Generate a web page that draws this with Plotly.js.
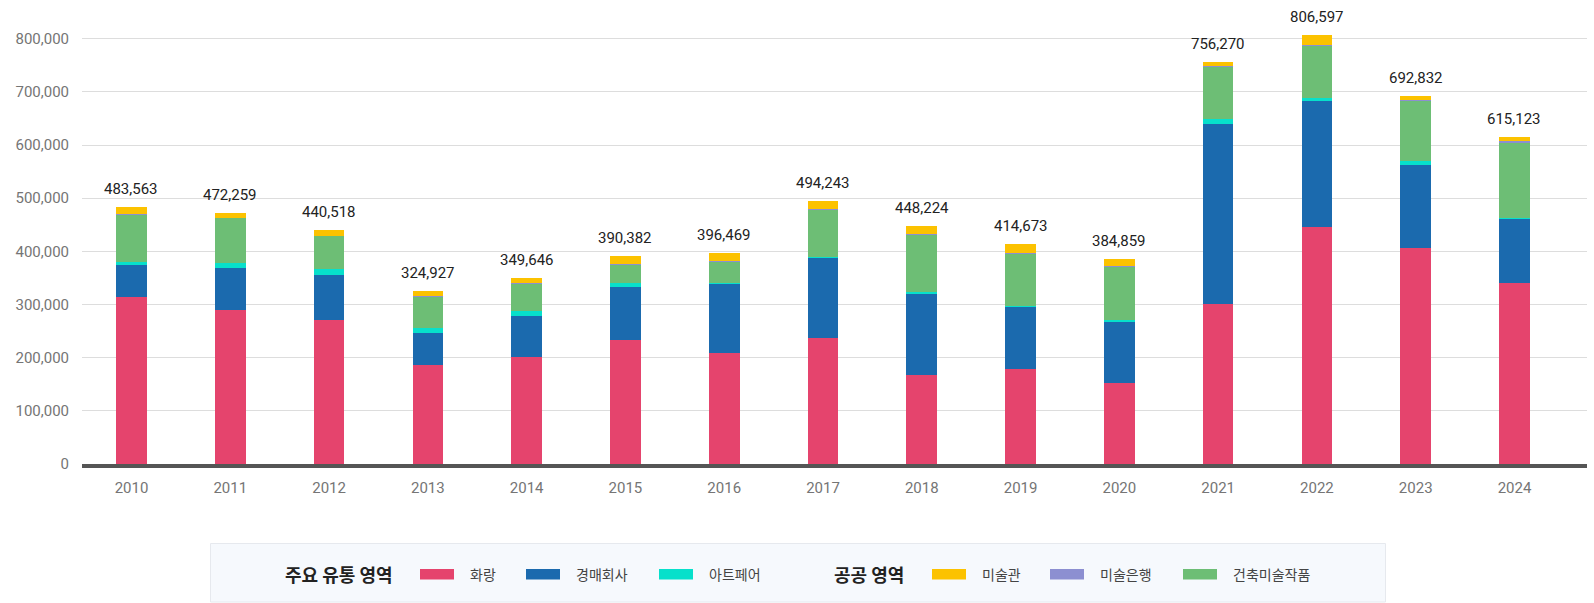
<!DOCTYPE html>
<html><head><meta charset="utf-8">
<script src="https://cdn.plot.ly/plotly-3.0.1.min.js"></script>
<style>html,body{margin:0;padding:0;background:#fff}#chart{width:1594px;height:603px}</style>
</head><body><div id="chart"></div>
<script>
// ---- data ----
const years = ['2010','2011','2012','2013','2014','2015','2016','2017','2018','2019','2020','2021','2022','2023','2024'];
const gallery   = [313800,289250,270400,185500,200600,232650,208100,236400,166600,177900,151500,300600,445850,406200,340000];
const auction   = [ 60350, 79250, 84900, 60350, 77300,100000,130800,150950,152850,117000,116400,339600,237750,156650,120500];
const artFair   = [  5650,  9400, 11300,  9450,  9450,  7550,  1850,  2450,  3750,  2450,  2500,  8100,  5650,  6200,  2400];
const museum    = [ 12600,  8500, 11200,  8700,  9550, 13800, 14150, 13850, 15000, 17300, 13150,  8000, 18700,  8800,  8300];
const artBank   = [  1900,   500,   500,  2450,  1200,  2450,  1900,  1900,  2450,  1850,  1900,  1900,  2400,  1000,  2400];
const publicArt = [ 89260, 84900, 62250, 58450, 51550, 33950, 39650, 88700,107550, 98150, 99400, 98100, 96250,113950,141500];
const totals    = [483563,472259,440518,324927,349646,390382,396469,494243,448224,414673,384859,756270,806597,692832,615123];
const seriesNames = ['화랑','경매회사','아트페어','미술관','미술은행','건축미술작품'];
const groupTitles = ['주요 유통 영역','공공 영역'];
const yTicks = [0,100000,200000,300000,400000,500000,600000,700000,800000];

// ---- style ----
const colors = {
  '화랑':'#E5446D','경매회사':'#1B6AAE','아트페어':'#07E0CB',
  '미술관':'#FCC200','미술은행':'#8C8FD1','건축미술작품':'#6DBE75'
};
const FONT = 'Roboto, "Noto Sans CJK KR", "Noto Sans", sans-serif';
const KFONT = '"Noto Sans CJK KR", Roboto, sans-serif';
const L = 82, R = 7, T = 14, B = 139, W = 1594, H = 603;
const PW = W - L - R, PH = H - T - B;
const px = x => (x - L) / PW;
const py = y => (H - B - y) / PH;
const fmt = v => String(v).replace(/\B(?=(\d{3})+(?!\d))/g, ',');

const stackOrder = [
  ['화랑', gallery], ['경매회사', auction], ['아트페어', artFair],
  ['건축미술작품', publicArt], ['미술은행', artBank], ['미술관', museum]
];
const traces = stackOrder.map(([name, vals]) => ({
  type: 'bar', name, x: years, y: vals, width: 0.31,
  marker: {color: colors[name], line: {width: 0}},
  showlegend: false, hoverinfo: 'skip'
}));

// total labels: category index positions on the category axis
const annotations = totals.map((t, i) => ({
  x: i, y: t, xref: 'x', yref: 'y',
  text: fmt(t), showarrow: false,
  xanchor: 'center', yanchor: 'middle', yshift: 18,
  font: {family: FONT, size: 15, color: '#222222'}
}));

// custom legend (layout positions)
const legendItems = [
  {kind:'title', text: groupTitles[0], x: 283},
  {kind:'item', name: seriesNames[0], x: 420},
  {kind:'item', name: seriesNames[1], x: 526},
  {kind:'item', name: seriesNames[2], x: 659},
  {kind:'title', text: groupTitles[1], x: 832},
  {kind:'item', name: seriesNames[3], x: 932},
  {kind:'item', name: seriesNames[4], x: 1050},
  {kind:'item', name: seriesNames[5], x: 1183}
];
const legY = 574;
const shapes = [{
  type:'rect', xref:'paper', yref:'paper',
  x0: px(210.5), x1: px(1385.5), y0: py(543.5), y1: py(602),
  fillcolor:'#F6F9FD', line:{color:'#E6E9EE', width:1}, layer:'below'
}];
legendItems.forEach(it => {
  if (it.kind === 'title') {
    annotations.push({xref:'paper', yref:'paper', x: px(it.x), y: py(legY),
      xanchor:'left', yanchor:'middle', showarrow:false, text: '<b>' + it.text + '</b>',
      font:{family: KFONT, size: 18, color:'#222222'}});
  } else {
    shapes.push({type:'rect', xref:'paper', yref:'paper',
      x0: px(it.x), x1: px(it.x + 34), y0: py(579.5), y1: py(569),
      fillcolor: colors[it.name], line:{width:0}});
    annotations.push({xref:'paper', yref:'paper', x: px(it.x + 48), y: py(legY),
      xanchor:'left', yanchor:'middle', showarrow:false, text: it.name,
      font:{family: KFONT, size: 14, color:'#444444'}});
  }
});

const layout = {
  width: W, height: H,
  margin: {l: L, r: R, t: T, b: B, pad: 0},
  paper_bgcolor: '#ffffff', plot_bgcolor: '#ffffff',
  barmode: 'stack', showlegend: false,
  font: {family: FONT},
  xaxis: {
    type: 'category', range: [-0.501, 14.734],
    showline: true, linecolor: '#555555', linewidth: 4,
    showgrid: false, zeroline: false, ticks: '',
    ticklabelstandoff: 7,
    tickfont: {family: FONT, size: 15, color: '#757575'}
  },
  yaxis: {
    range: [0, 846500], tickvals: yTicks,
    ticktext: yTicks.map(fmt),
    showgrid: true, gridcolor: '#DDDDDD', gridwidth: 1,
    zeroline: false, showline: false, ticks: '',
    ticklabelstandoff: 12,
    tickfont: {family: FONT, size: 15, color: '#757575'}
  },
  shapes, annotations
};

Plotly.newPlot('chart', traces, layout, {staticPlot: true, displayModeBar: false});
</script>
</body></html>
